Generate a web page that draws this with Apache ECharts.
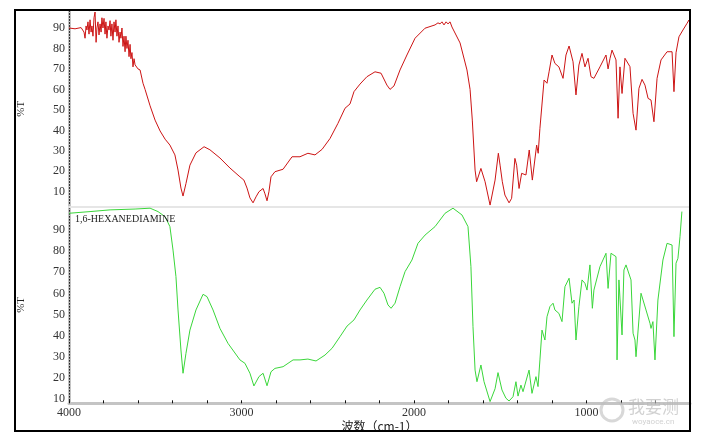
<!DOCTYPE html>
<html>
<head>
<meta charset="utf-8">
<script src="https://cdn.jsdelivr.net/npm/echarts@6/dist/echarts.min.js"></script>
<style>
  html, body { margin: 0; padding: 0; background: #ffffff; }
  #chart { width: 704px; height: 437px; }
</style>
</head>
<body>
<div id="chart"></div>
<script>
  // reference sample (red), wavenumber cm-1 / %T
  var topWn = [4000, 3965, 3930, 3919, 3913, 3907, 3901, 3896, 3890, 3884, 3878, 3872, 3867, 3861, 3855, 3849, 3843,
    3838, 3832, 3826, 3820, 3814, 3809, 3803, 3797, 3791, 3786, 3780, 3774, 3768, 3762, 3757, 3751, 3745, 3739,
    3733, 3728, 3722, 3716, 3710, 3704, 3699, 3693, 3687, 3681, 3675, 3670, 3664, 3658, 3652, 3646, 3641, 3635,
    3629, 3623, 3617, 3600, 3588, 3571, 3559, 3530, 3501, 3472, 3443, 3415, 3386, 3368, 3351, 3339, 3322, 3299,
    3264, 3217, 3183, 3125, 3067, 3009, 2986, 2968, 2951, 2933, 2916, 2899, 2875, 2864, 2852, 2841, 2829, 2806,
    2759, 2707, 2661, 2615, 2574, 2533, 2487, 2441, 2400, 2371, 2348, 2313, 2273, 2226, 2191, 2157, 2139, 2116,
    2081, 2041, 1994, 1936, 1878, 1861, 1849, 1838, 1826, 1814, 1803, 1791, 1780, 1733, 1693, 1675, 1662, 1646,
    1637, 1612, 1588, 1559, 1530, 1511, 1501, 1488, 1473, 1449, 1434, 1415, 1405, 1391, 1376, 1366, 1351, 1332,
    1314, 1289, 1280, 1270, 1246, 1229, 1217, 1200, 1183, 1160, 1136, 1119, 1101, 1078, 1061, 1044, 1026, 1009,
    991, 974, 957, 922, 887, 875, 864, 852, 829, 817, 806, 794, 777, 748, 730, 713, 696, 678, 661, 643, 626, 609,
    591, 568, 533, 504, 493, 481, 464, 441, 417, 406, 400];
  var topT = [90, 89.6, 90.2, 90, 88, 85, 91, 89, 93, 87, 94, 88, 91, 86, 95, 97.8, 83, 90, 93, 86.6, 92, 88, 95, 90,
    94.7, 87, 93, 85, 91, 89, 93.6, 86, 92, 84, 93, 88, 94, 86, 91, 83, 88, 85, 90, 81, 86, 78.4, 86, 80, 84, 76,
    82, 75, 78, 71, 75, 72, 70, 69.5, 63, 60, 52, 45, 39.7, 35.7, 32.8, 28, 20.6, 11.8, 7.9, 14, 23, 29, 32, 30.5,
    26.5, 21.6, 17.3, 15.7, 11.8, 7, 4.6, 7.5, 10, 11.6, 9, 5.6, 10, 17.3, 19.8, 21, 27.1, 27.1, 28.8, 28, 30.7,
    36, 43.4, 50.8, 52.9, 58.9, 62.6, 66.2, 68.6, 67.9, 62.1, 60, 61.7, 69.5, 76.8, 85, 89.9, 91.5, 92.5, 92, 93,
    91.5, 93, 92, 93, 90.5, 82.7, 69.5, 60, 45, 20.6, 14.9, 21.4, 14.9, 3.5, 15.7, 28.8, 23, 14.9, 8.4, 4.6, 6.8,
    26.3, 23, 11.6, 19, 19.8, 18.2, 30.4, 15.7, 32.8, 28.8, 41, 64.6, 63, 68.6, 76.8, 72.7, 71, 65.4, 76.8, 81.2,
    73.5, 57.3, 71.9, 77.6, 71, 75.2, 66.2, 65.4, 71, 76.8, 70, 75, 79.2, 74.4, 45.9, 71, 58, 75.2, 71.1, 48.3,
    40.1, 60.5, 64.9, 62.1, 55.6, 54.8, 44.2, 65.4, 74.4, 78.4, 78.4, 58.9, 77.9, 85.7, 89, 92.3, 93.9, 92.3];

  // 1,6-hexanediamine (green), wavenumber cm-1 / %T
  var botWn = [4000, 3878, 3762, 3617, 3530, 3484, 3443, 3415, 3397, 3380, 3368, 3351, 3339, 3322, 3299, 3264, 3223,
    3200, 3165, 3125, 3078, 3009, 2980, 2951, 2928, 2899, 2875, 2852, 2829, 2806, 2759, 2701, 2661, 2615, 2568,
    2516, 2475, 2429, 2388, 2348, 2313, 2273, 2226, 2197, 2174, 2151, 2133, 2110, 2081, 2052, 2012, 1977, 1936,
    1878, 1820, 1774, 1722, 1687, 1670, 1658, 1646, 1635, 1612, 1594, 1559, 1530, 1513, 1490, 1467, 1449, 1426,
    1409, 1397, 1380, 1368, 1333, 1316, 1293, 1281, 1270, 1258, 1241, 1229, 1212, 1194, 1183, 1160, 1142, 1125,
    1101, 1084, 1072, 1061, 1044, 1026, 1009, 997, 980, 966, 957, 922, 887, 875, 858, 829, 823, 812, 794, 783, 771,
    742, 730, 719, 713, 684, 678, 655, 632, 626, 615, 603, 586, 557, 533, 504, 493, 481, 470, 458, 447];
  var botT = [97.9, 98.7, 99.5, 99.9, 100.3, 98.7, 96.3, 91.6, 80.5, 68, 52.2, 33.3, 22.3, 31.7, 42.7, 52.2, 59.6,
    58.5, 52.2, 43.5, 36.4, 28.6, 27, 22.3, 16.3, 20.7, 22.3, 16.4, 23, 24.6, 25.4, 28.6, 28.6, 29, 28.1, 30.9,
    34.1, 39.6, 44.6, 47.5, 52.2, 56.9, 62, 62.9, 60.1, 54.6, 53, 55.4, 63.2, 70.3, 75.8, 83.7, 87.6, 91.6, 97.9,
    100.3, 97.1, 91.6, 72.7, 44.3, 23.8, 18.3, 26.2, 18.3, 8.9, 15, 22.6, 14.4, 10.5, 9.2, 11.2, 18.3, 11.5, 16.7,
    13.6, 23.8, 12.8, 20.7, 16, 28.6, 42.7, 38, 49, 53.8, 55.4, 52.2, 50.6, 46.7, 63.2, 67.2, 55.4, 56.9, 38, 53.8,
    66.4, 64.8, 61.6, 73.5, 53, 61.6, 72.7, 79, 62.4, 79, 77.4, 28.6, 66.4, 40.4, 71.1, 73.5, 66.4, 41.2, 38, 30.1,
    60.1, 60.8, 52.2, 45.9, 43.5, 46.7, 28.6, 56.9, 75.8, 83.7, 82.9, 39.6, 74.3, 76.6, 86.8, 98.7];

  var xLabelValues = [4000, 3000, 2000, 1000];
  var yLabelValues = [10, 20, 30, 40, 50, 60, 70, 80, 90];
  var sampleName = '1,6-HEXANEDIAMINE';

  function pairs(xs, ys) {
    var out = [];
    for (var i = 0; i < xs.length; i++) out.push([xs[i], ys[i]]);
    return out;
  }

  var serif = '"Liberation Serif", "DejaVu Serif", serif';

  function yAxisPair(grid, min, max) {
    return [{
      gridIndex: grid, type: 'value', min: min, max: max, position: 'left',
      axisLine: {show: true, lineStyle: {color: '#c4c4c4', width: 3}},
      axisTick: {show: false}, axisLabel: {show: false}, splitLine: {show: false}
    }, {
      gridIndex: grid, type: 'value', min: min, max: max, position: 'left',
      name: '%T', nameLocation: 'middle', nameGap: 42, nameRotate: 90,
      nameTextStyle: {fontFamily: serif, fontSize: 11, color: '#222'},
      axisLine: {show: true, lineStyle: {color: '#222', width: 1, type: [1, 2]}},
      axisTick: {show: false},
      axisLabel: {customValues: yLabelValues, margin: 4, fontFamily: serif, fontSize: 12, color: '#333'},
      splitLine: {show: false}
    }];
  }

  var myChart = echarts.init(document.getElementById('chart'));
  var option = {
    animation: false,
    backgroundColor: '#ffffff',
    title: {
      text: sampleName, left: 70, top: 209,
      textStyle: {fontFamily: serif, fontSize: 10, fontWeight: 'normal', color: '#222'}
    },
    grid: [
      {left: 69, right: 14, top: 11, height: 195.5},
      {left: 69, right: 14, top: 206.5, height: 196.8}
    ],
    xAxis: [{
      gridIndex: 0, type: 'value', min: 400, max: 4000, inverse: true,
      axisLine: {show: true, lineStyle: {color: '#e6e6e6', width: 2}},
      axisTick: {show: false}, axisLabel: {show: false}, splitLine: {show: false}
    }, {
      gridIndex: 1, type: 'value', min: 400, max: 4000, interval: 200, inverse: true,
      name: '波数（cm-1）', nameLocation: 'middle', nameGap: 17,
      nameTextStyle: {fontFamily: '"Noto Sans CJK SC", sans-serif', fontSize: 12, color: '#222'},
      axisLine: {show: true, lineStyle: {color: '#c4c4c4', width: 3}},
      axisTick: {show: true, inside: true, length: 3, lineStyle: {color: '#111', width: 1}},
      axisLabel: {
        margin: 4, fontFamily: serif, fontSize: 12, color: '#333', showMinLabel: true, showMaxLabel: true,
        formatter: function (v) { return xLabelValues.indexOf(v) >= 0 ? String(v) : ''; }
      },
      splitLine: {show: false}
    }],
    yAxis: yAxisPair(0, 2.8, 98.3).concat(yAxisPair(1, 8.1, 101.1)),
    series: [{
      type: 'line', xAxisIndex: 0, yAxisIndex: 1, data: pairs(topWn, topT),
      showSymbol: false, lineStyle: {color: '#cc1414', width: 1}
    }, {
      type: 'line', xAxisIndex: 1, yAxisIndex: 3, data: pairs(botWn, botT),
      showSymbol: false, lineStyle: {color: '#3ad63a', width: 1}
    }],
    graphic: [
      // outer frame
      {type: 'rect', shape: {x: 15, y: 10, width: 675, height: 421}, style: {fill: 'none', stroke: '#000', lineWidth: 2}, z: 10},
      // watermark
      {type: 'circle', shape: {cx: 612, cy: 410, r: 11}, style: {fill: 'none', stroke: 'rgba(190,190,190,0.6)', lineWidth: 3}, z: 5},
      {type: 'text', left: 628, top: 398, style: {text: '我要测', fontSize: 17, fontFamily: '"Noto Sans CJK SC"', fill: 'rgba(185,185,185,0.65)'}, z: 5},
      {type: 'text', left: 632, top: 418, style: {text: 'woyaoce.cn', fontSize: 8, fontFamily: 'Roboto', fill: 'rgba(185,185,185,0.65)'}, z: 5}
    ]
  };
  myChart.setOption(option);
</script>
</body>
</html>
